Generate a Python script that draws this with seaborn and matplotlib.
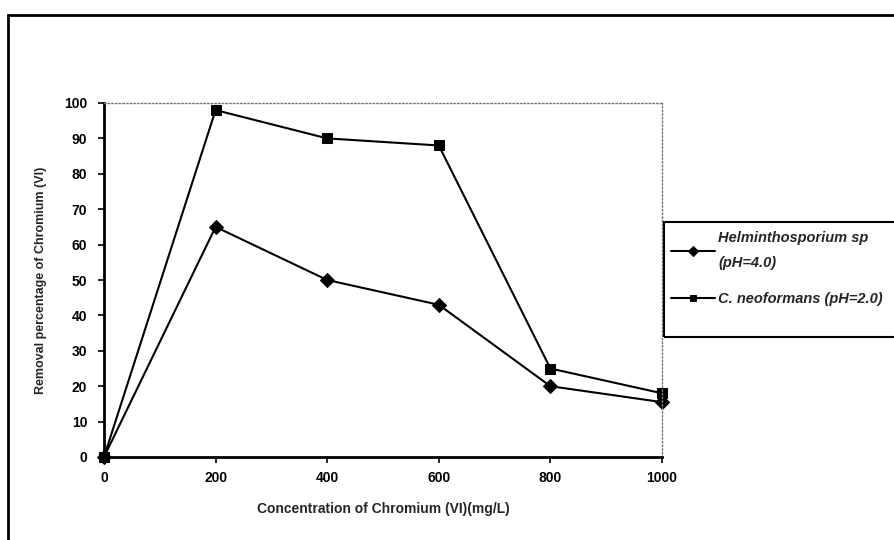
import pandas as pd
import matplotlib.pyplot as plt
import seaborn as sns
from matplotlib.patches import Rectangle

# Data
concentration = [0, 200, 400, 600, 800, 1000]
helmintho = [0, 65, 50, 43, 20, 15.5]
neoformans = [0, 98, 90, 88, 25, 18]
labels = ["Helminthosporium sp\n(pH=4.0)", "C. neoformans (pH=2.0)"]

df = pd.DataFrame({
    "conc": concentration * 2,
    "removal": helmintho + neoformans,
    "series": [labels[0]] * 6 + [labels[1]] * 6,
})

sns.set_style("white")
plt.rcParams["font.family"] = ["Liberation Sans", "DejaVu Sans"]
plt.rcParams["font.weight"] = "bold"

fig = plt.figure(figsize=(8.95, 5.4), dpi=100)
ax = fig.add_axes([104 / 895, 1 - 457 / 540, (662 - 104) / 895, (457 - 103) / 540])

sns.lineplot(data=df, x="conc", y="removal", hue="series", style="series",
             palette=["black", "black"], markers={labels[0]: "D", labels[1]: "s"},
             dashes=False, markersize=7, linewidth=1.5, markeredgecolor="black",
             ax=ax, legend=True, clip_on=False)

ax.set_xlim(0, 1000)
ax.set_ylim(0, 100)
ax.set_xticks(range(0, 1001, 200))
ax.set_yticks(range(0, 101, 10))
ax.tick_params(axis="both", direction="out", length=4, width=1.2, labelsize=10,
               left=True, bottom=True, colors="black")
ax.tick_params(axis="x", pad=6)
ax.tick_params(axis="y", pad=8)
for s in ["left", "bottom"]:
    ax.spines[s].set_linewidth(2)
    ax.spines[s].set_color("black")
for s in ["top", "right"]:
    ax.spines[s].set_linewidth(1)
    ax.spines[s].set_color("#777777")
    ax.spines[s].set_linestyle(":")
ax.set_xlabel("Concentration of Chromium (VI)(mg/L)", fontsize=10, fontweight="bold", labelpad=12)
ax.set_ylabel("Removal percentage of Chromium (VI)", fontsize=9, fontweight="bold", labelpad=12)

# legend (frame drawn separately, it runs off the right edge like the original)
handles, lbls = ax.get_legend_handles_labels()
for h in handles:
    h.set_markersize(5)
leg = ax.legend(handles, lbls, loc="upper left", bbox_to_anchor=(671 / 895, 1 - 231 / 540),
                bbox_transform=fig.transFigure, frameon=False,
                borderpad=0, labelspacing=1.5, borderaxespad=0,
                handlelength=3.0, handletextpad=0.25,
                prop={"style": "italic", "weight": "bold", "size": 10.5})
for t in leg.get_texts():
    t.set_linespacing(2.0)
fig.patches.append(Rectangle((664 / 895, 1 - 337 / 540), 0.3, (337 - 222) / 540,
                             transform=fig.transFigure, fill=False, edgecolor="black",
                             linewidth=1.5, clip_on=False))

# outer chart frame
fig.patches.append(Rectangle((8 / 895, -0.05), 1.1, 1 - 15 / 540 + 0.05, transform=fig.transFigure,
                             fill=False, edgecolor="black", linewidth=2, clip_on=False))

fig.savefig("out.png", dpi=100)
